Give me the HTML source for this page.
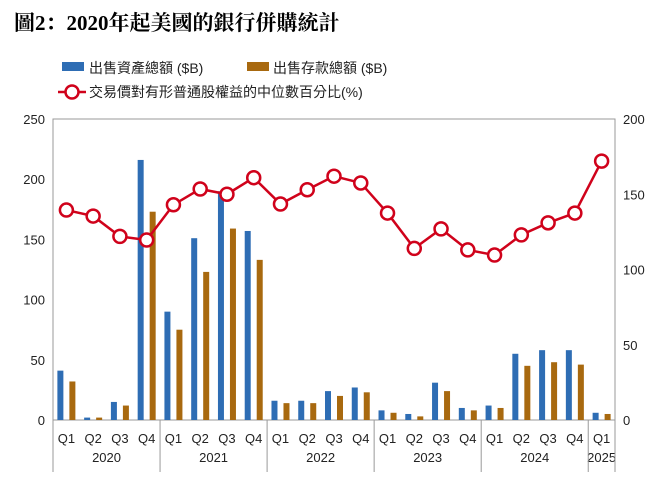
<!DOCTYPE html>
<html><head><meta charset="utf-8"><style>
body{margin:0;background:#fff;width:664px;height:494px;overflow:hidden;font-family:"Liberation Sans","Noto Sans CJK TC",sans-serif}
</style></head><body>
<svg id="c" width="664" height="494" xmlns="http://www.w3.org/2000/svg">
<text x="14" y="30" font-family="'Liberation Serif','Noto Serif CJK SC',serif" font-weight="bold" font-size="21" fill="#000">圖2：2020年起美國的銀行併購統計</text>
<g>
<rect x="62" y="62" width="22" height="9" fill="#2e6db4"/>
<text x="89" y="73" font-size="14" fill="#222">出售資產總額 ($B)</text>
<rect x="247" y="62" width="22" height="9" fill="#a8690f"/>
<text x="273" y="73" font-size="14" fill="#222">出售存款總額 ($B)</text>
<line x1="58" y1="92" x2="86" y2="92" stroke="#d0021b" stroke-width="2.5"/>
<circle cx="72" cy="92" r="6.5" fill="#fff" stroke="#d0021b" stroke-width="2.5"/>
<text x="89" y="97" font-size="14" fill="#222">交易價對有形普通股權益的中位數百分比(%)</text>
</g>
<g id="plot"></g>
</svg>
<script>
const years=["2020","2021","2022","2023","2024","2025"];
const quarters=["Q1","Q2","Q3","Q4","Q1","Q2","Q3","Q4","Q1","Q2","Q3","Q4","Q1","Q2","Q3","Q4","Q1","Q2","Q3","Q4","Q1"];
const assets=[41,2,15,216,90,151,190,157,16,16,24,27,8,5,31,10,12,55,58,58,6];
const deposits=[32,2,12,173,75,123,159,133,14,14,20,23,6,3,24,8,10,45,48,46,5];
const ptbv=[139.5,135.5,122,119.6,143,153.5,150,161,143.5,153,162,157.5,137.5,114,127,113,109.6,123,131,137.5,172];
const leftTicks=[0,50,100,150,200,250];
const rightTicks=[0,50,100,150,200];
const L=53,R=615,T=119,B=420,n=quarters.length,bw=(R-L)/n;
const yl=v=>B-(v/250)*(B-T), yr=v=>B-(v/200)*(B-T), xc=i=>L+bw*(i+0.5);
const g=document.getElementById('plot'),NS="http://www.w3.org/2000/svg";
function mk(t,a,p){const e=document.createElementNS(NS,t);for(const k in a)e.setAttribute(k,a[k]);(p||g).appendChild(e);return e;}
let e;
e=mk('rect',{x:L,y:T,width:R-L,height:B-T,fill:'none',stroke:'#999','stroke-width':1});


leftTicks.forEach(v=>{e=mk('text',{x:L-8,y:yl(v)+5,'text-anchor':'end','font-size':13,fill:'#222'});e.textContent=v;

});
rightTicks.forEach(v=>{e=mk('text',{x:R+8,y:yr(v)+5,'font-size':13,fill:'#222'});e.textContent=v;

});
assets.forEach((v,i)=>{e=mk('rect',{x:xc(i)-9,y:yl(v),width:6,height:B-yl(v),fill:'#2e6db4'});

});
deposits.forEach((v,i)=>{e=mk('rect',{x:xc(i)+3,y:yl(v),width:6,height:B-yl(v),fill:'#a8690f'});

});
e=mk('polyline',{points:ptbv.map((v,i)=>xc(i)+','+yr(v)).join(' '),fill:'none',stroke:'#d0021b','stroke-width':2.5});


ptbv.forEach((v,i)=>{e=mk('circle',{cx:xc(i),cy:yr(v),r:6.5,fill:'#fff',stroke:'#d0021b','stroke-width':2.5});

});
quarters.forEach((q,i)=>{e=mk('text',{x:xc(i),y:443,'text-anchor':'middle','font-size':13,fill:'#222'});e.textContent=q;

});
years.forEach((y,k)=>{const s=k*4,en=Math.min(s+4,n);
e=mk('text',{x:(L+bw*s+L+bw*en)/2,y:462,'text-anchor':'middle','font-size':13,fill:'#222'});e.textContent=y;


e=mk('line',{x1:L+bw*s,y1:B,x2:L+bw*s,y2:472,stroke:'#999'});

});
e=mk('line',{x1:R,y1:B,x2:R,y2:472,stroke:'#999'});


</script>
</body></html>
